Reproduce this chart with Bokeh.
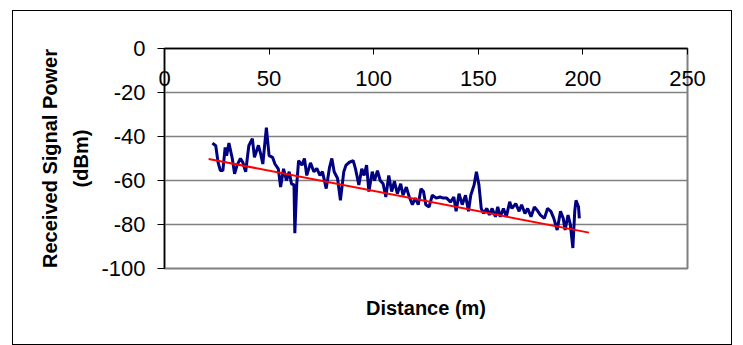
from bokeh.plotting import figure
from bokeh.models import LinearAxis, Range1d, FixedTicker, PrintfTickFormatter
from bokeh.embed import file_html
from bokeh.resources import INLINE

# Measured received signal power vs distance
distance = [22.9, 24.5, 25.6, 26.7, 27.9, 29.0, 29.7, 30.8, 32.4, 33.5, 34.7, 36.3, 37.4, 38.8,
            40.3, 42.0, 43.0, 44.9, 46.0, 47.0, 48.7, 50.0, 51.7, 52.8, 54.4, 55.5, 56.9, 58.3,
            59.6, 60.7, 61.9, 62.3, 63.2, 64.1, 65.7, 66.9, 68.0, 69.8, 71.4, 72.8, 74.3, 75.5,
            77.3, 78.9, 80.0, 81.1, 82.7, 84.1, 85.7, 86.8, 88.4, 90.2, 91.3, 92.9, 94.3, 95.4,
            96.6, 97.7, 99.3, 100.4, 101.8, 103.1, 104.5, 105.8, 107.2, 108.6, 109.9, 111.3,
            112.9, 114.0, 115.6, 117.0, 118.5, 119.9, 121.3, 122.6, 123.8, 124.9, 126.5, 128.0,
            129.9, 131.7, 133.3, 134.9, 136.7, 138.3, 139.4, 140.8, 142.3, 143.9, 145.3, 146.4,
            148.0, 149.1, 150.3, 151.4, 152.5, 154.1, 155.3, 156.6, 158.2, 159.3, 160.5, 162.0,
            163.4, 165.0, 166.1, 167.9, 169.5, 170.7, 172.3, 173.6, 175.2, 176.8, 178.1, 179.7,
            181.6, 183.1, 184.7, 186.1, 187.7, 189.3, 190.6, 191.5, 192.9, 194.0, 195.2, 196.1,
            196.7, 197.9, 198.3]
power = [-43.0, -44.2, -51.7, -55.5, -55.5, -45.0, -48.7, -43.0, -50.0, -57.0, -53.0, -50.0,
         -51.7, -56.0, -44.2, -41.0, -49.5, -44.0, -48.0, -52.5, -36.0, -48.7, -49.5, -52.5,
         -54.7, -63.0, -54.7, -60.0, -56.0, -61.5, -62.0, -84.0, -62.0, -51.0, -53.0, -50.0,
         -57.7, -52.0, -56.0, -54.5, -57.7, -56.0, -63.7, -54.0, -50.0, -56.0, -59.0, -69.0,
         -56.0, -53.0, -51.7, -51.0, -54.7, -62.0, -54.7, -57.7, -53.0, -65.0, -56.0, -60.0,
         -55.5, -60.0, -61.5, -67.5, -57.7, -65.0, -60.4, -66.0, -61.5, -66.7, -63.0, -67.5,
         -71.0, -68.0, -71.0, -63.7, -65.0, -71.0, -72.0, -66.7, -68.0, -67.5, -68.0, -68.0,
         -69.8, -67.5, -74.0, -66.0, -71.0, -66.7, -74.0, -66.7, -62.0, -56.0, -62.0, -72.7,
         -75.0, -72.7, -75.7, -72.7, -76.5, -72.0, -76.5, -72.7, -76.5, -69.7, -72.7, -70.5,
         -74.0, -71.0, -75.0, -72.7, -76.5, -72.0, -73.5, -75.7, -77.2, -72.7, -74.0, -77.2,
         -82.5, -74.0, -77.2, -82.5, -75.7, -80.0, -90.7, -74.0, -69.0, -72.0, -77.2]

# Linear trend line end points
trend_distance = [21.1, 202.9]
trend_power = [-50.2, -83.7]

x_ticks = [0, 50, 100, 150, 200, 250]
y_ticks = [0, -20, -40, -60, -80, -100]

FONT = "Liberation Sans"

p = figure(width=718, height=333, frame_width=523, frame_height=220,
           min_border_left=151, min_border_right=44, min_border_top=37, min_border_bottom=76,
           x_range=Range1d(0, 250), y_range=Range1d(-100, 0),
           x_axis_location="above", output_backend="svg", toolbar_location=None,
           background_fill_color="white", border_fill_color="white")
p.styles = {"border": "1px solid black", "margin-left": "12px", "margin-top": "10px"}

p.outline_line_color = "#808080"
p.outline_line_width = 2

# top x axis (crosses at y=0), labels inside the plot
xa = p.xaxis[0]
xa.ticker = FixedTicker(ticks=x_ticks)
xa.formatter = PrintfTickFormatter(format="%d")
xa.axis_line_color = "black"
xa.axis_line_width = 1.5
xa.major_tick_in = 6
xa.major_tick_out = 0
xa.major_tick_line_color = "black"
xa.minor_tick_line_color = None
xa.major_label_standoff = -37
xa.major_label_text_font = FONT
xa.major_label_text_font_size = "22px"
xa.major_label_text_color = "black"

# bottom axis only for the title
bx = LinearAxis(ticker=FixedTicker(ticks=[]), axis_label="Distance (m)")
bx.axis_line_color = None
bx.major_tick_line_color = None
bx.minor_tick_line_color = None
bx.major_label_text_font_size = "0px"
bx.major_tick_out = 0
bx.major_label_standoff = 0
bx.axis_label_standoff = 28
bx.axis_label_text_font = FONT
bx.axis_label_text_font_size = "20px"
bx.axis_label_text_font_style = "bold"
bx.axis_label_text_color = "black"
p.add_layout(bx, "below")

ya = p.yaxis[0]
ya.ticker = FixedTicker(ticks=y_ticks)
ya.formatter = PrintfTickFormatter(format="%d")
ya.axis_line_color = "black"
ya.axis_line_width = 1.5
ya.major_tick_out = 7
ya.major_tick_in = 0
ya.major_tick_line_color = "black"
ya.minor_tick_line_color = None
ya.major_label_standoff = 12
ya.major_label_text_font = FONT
ya.major_label_text_font_size = "22px"
ya.major_label_text_color = "black"
ya.axis_label = "Received Signal Power\n(dBm)"
ya.axis_label_text_font = FONT
ya.axis_label_text_font_size = "20px"
ya.axis_label_text_font_style = "bold"
ya.axis_label_text_color = "black"
ya.axis_label_text_line_height = 1.45
ya.axis_label_standoff = 6

p.xgrid.grid_line_color = None
p.ygrid.ticker = FixedTicker(ticks=y_ticks)
p.ygrid.grid_line_color = "#808080"
p.ygrid.grid_line_width = 1.5

p.line(distance, power, line_color="#000080", line_width=3)
p.line(trend_distance, trend_power, line_color="#FF0000", line_width=2)

open("out.html", "w").write(file_html(p, INLINE))
